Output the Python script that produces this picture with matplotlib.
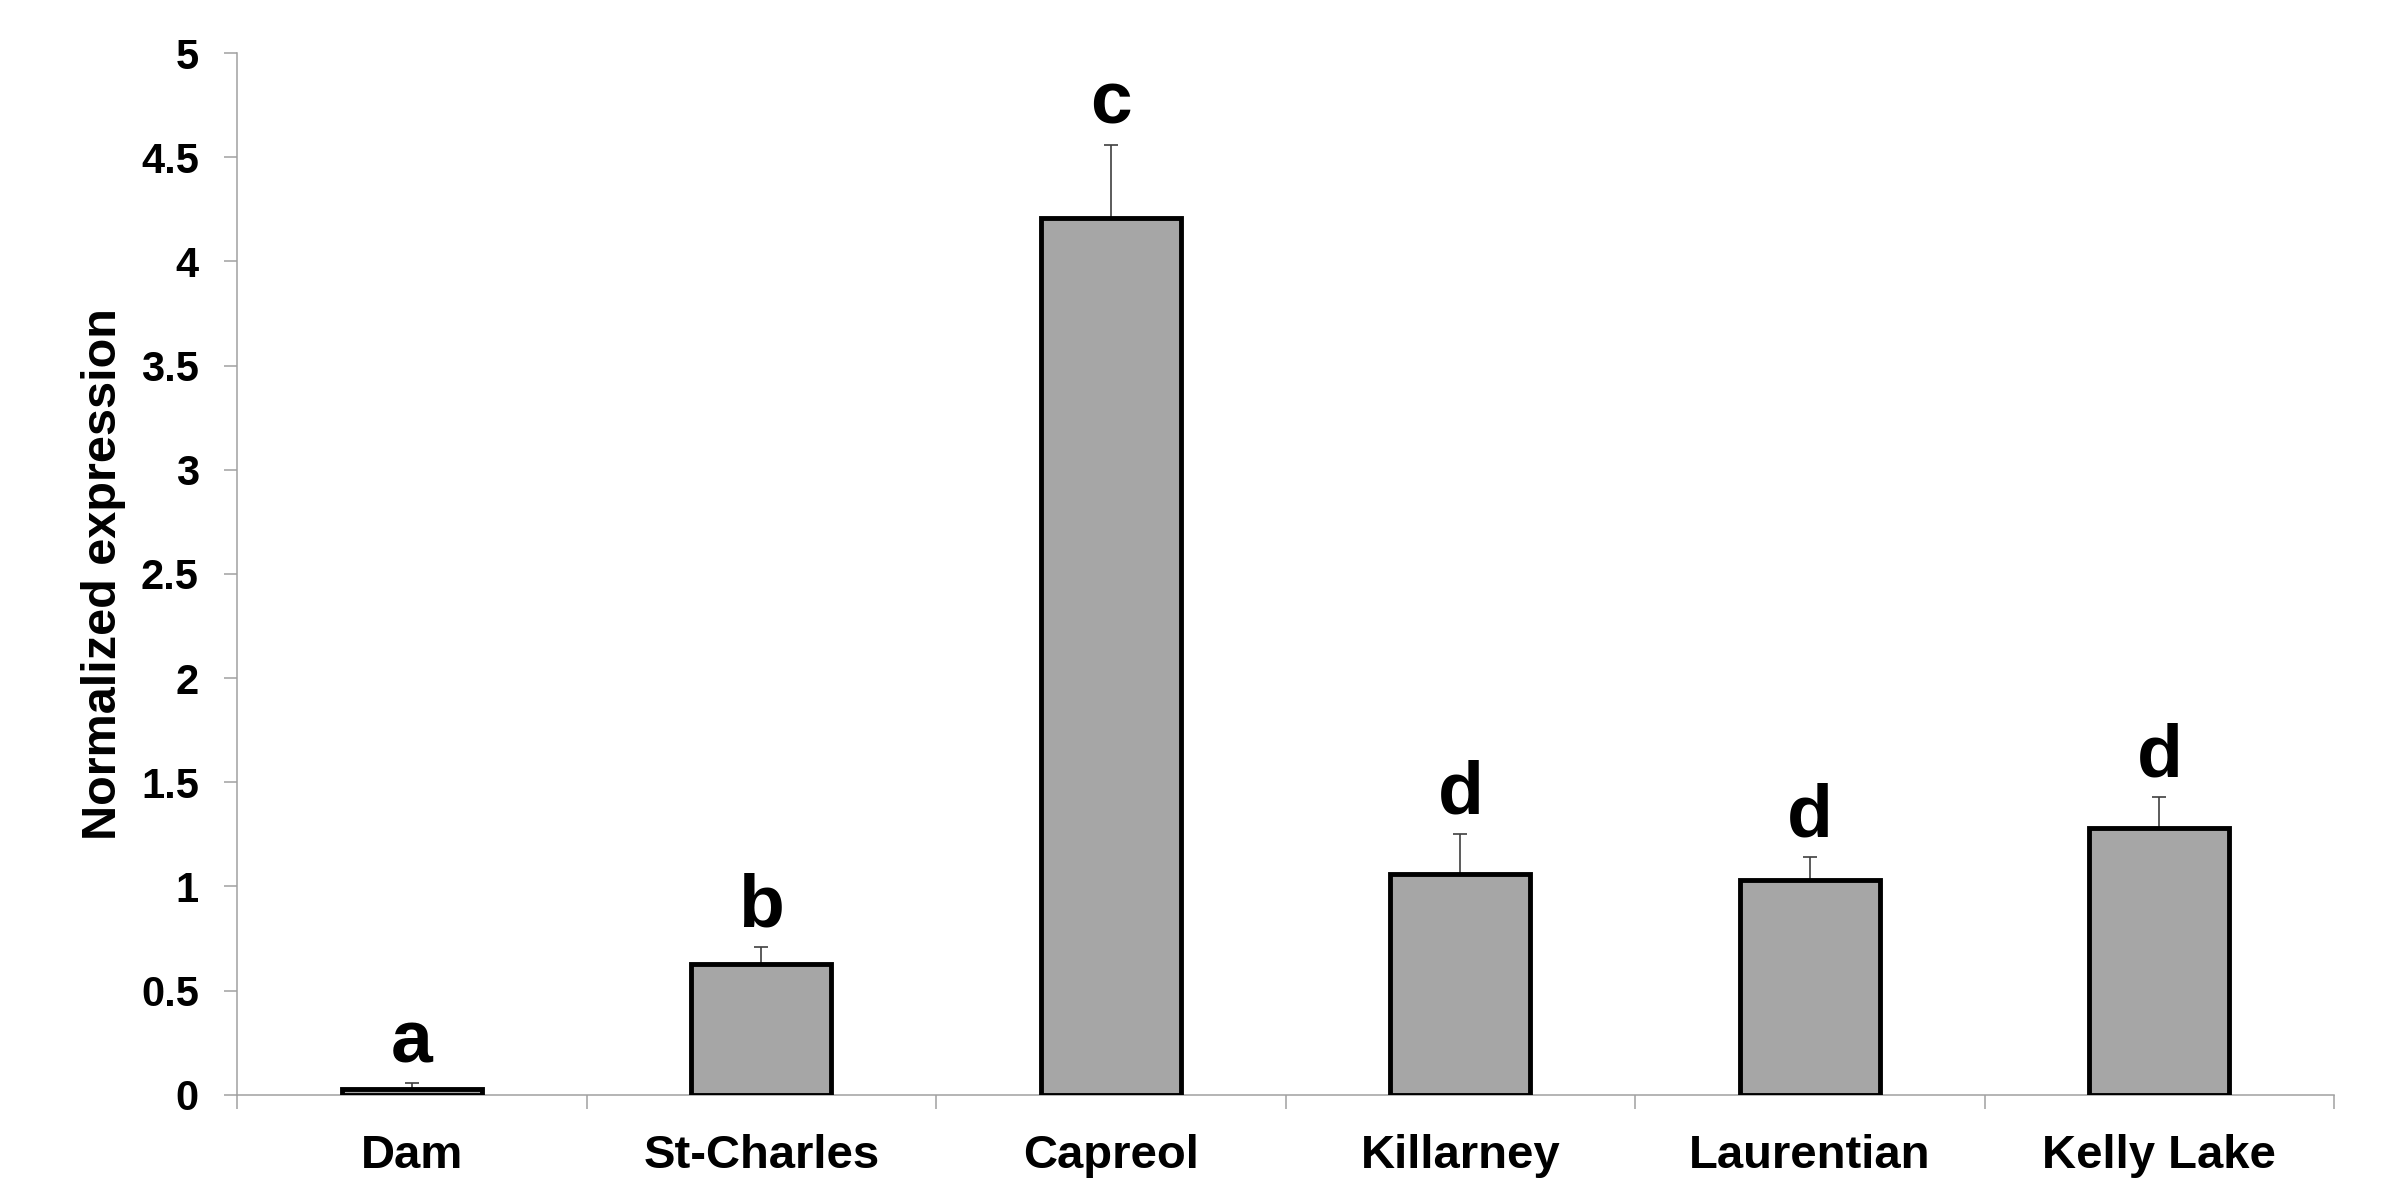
import numpy as np
import matplotlib
matplotlib.use('Agg')
import matplotlib.pyplot as plt
from matplotlib.ticker import FixedLocator, NullFormatter

# Expression per site, upper standard error and significance groups
sites = ['Dam', 'St-Charles', 'Capreol', 'Killarney', 'Laurentian', 'Kelly Lake']
expression = [0.03, 0.63, 4.21, 1.06, 1.03, 1.28]
upper_err = [0.025, 0.08, 0.35, 0.19, 0.11, 0.15]
groups = ['a', 'b', 'c', 'd', 'd', 'd']
y_ticks = [0, 0.5, 1, 1.5, 2, 2.5, 3, 3.5, 4, 4.5, 5]
y_tick_labels = ['0', '0.5', '1', '1.5', '2', '2.5', '3', '3.5', '4', '4.5', '5']

plt.rcParams['font.family'] = ['Liberation Sans', 'DejaVu Sans']
plt.rcParams['font.weight'] = 'bold'

fig = plt.figure(figsize=(23.94, 11.81), dpi=100)
ax = fig.add_axes([0.099, 0.073, 0.876, 0.882])

x = np.arange(len(sites))
ax.bar(x, expression, width=0.4, color='#a6a6a6', edgecolor='black',
       linewidth=3.5, zorder=3)
ax.errorbar(x, expression, yerr=[np.zeros(len(x)), upper_err], fmt='none',
            ecolor='#404040', elinewidth=1.2, capsize=5, capthick=1.2, zorder=2)

# Group letters sit just above each error bar
for xi, val, err, g in zip(x, expression, upper_err, groups):
    ax.text(xi, val + err + 0.1, g, ha='center', va='baseline',
            fontsize=54, fontweight='bold')

ax.set_xlim(-0.5, len(sites) - 0.5)
ax.set_ylim(0, 5)

ax.set_yticks(y_ticks)
ax.set_yticklabels(y_tick_labels, fontsize=30, fontweight='bold')
ax.tick_params(axis='y', direction='out', length=9.5, width=1.1,
               color='#a0a0a0', pad=18)

# Category names at bar centres, tick marks at the boundaries between them
ax.set_xticks(x)
ax.set_xticklabels(sites, fontsize=34, fontweight='bold')
ax.tick_params(axis='x', which='major', length=0, pad=28)
ax.xaxis.set_minor_locator(FixedLocator(np.arange(-0.5, len(sites), 1.0)))
ax.xaxis.set_minor_formatter(NullFormatter())
ax.tick_params(axis='x', which='minor', direction='out', length=10, width=1.1,
               color='#a0a0a0')

ax.set_ylabel('Normalized expression', fontsize=35, fontweight='bold')
ax.yaxis.set_label_coords(-0.053, 0.5)

for side in ['top', 'right']:
    ax.spines[side].set_visible(False)
for side in ['left', 'bottom']:
    ax.spines[side].set_color('#a0a0a0')
    ax.spines[side].set_linewidth(1.1)

fig.savefig('out.png', dpi=100)
